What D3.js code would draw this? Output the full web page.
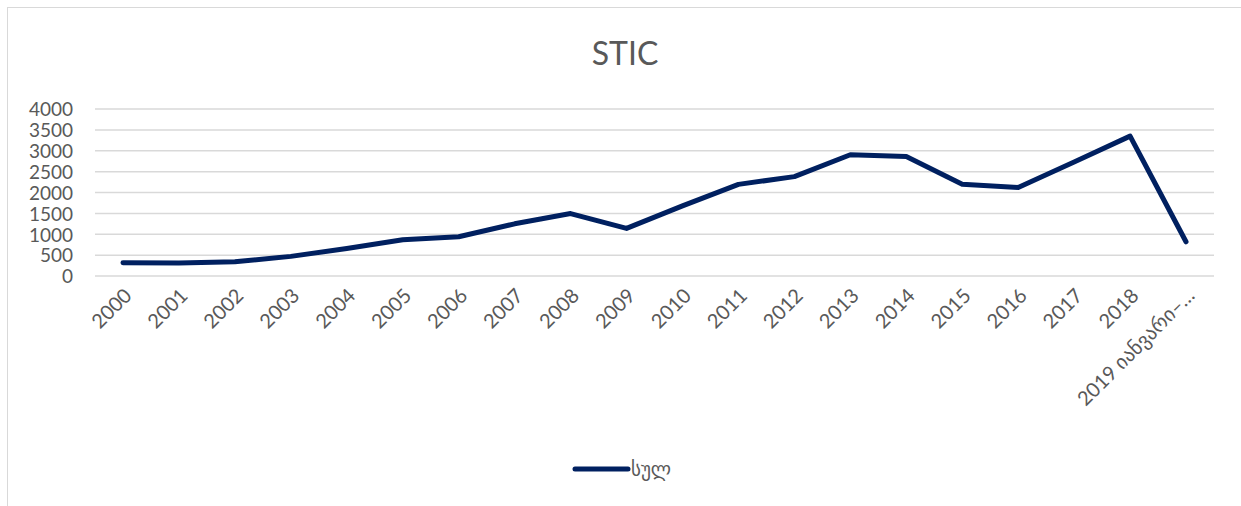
<!DOCTYPE html>
<html>
<head>
<meta charset="utf-8">
<script src="https://cdn.jsdelivr.net/npm/d3@7"></script>
<style>
    body { margin: 0; background: #fff; }
    svg { display: block; }
    .tick-label { font-family: Lato, "DejaVu Sans", sans-serif; fill: #595959; }
</style>
</head>
<body>
<div id="chart"></div>
<script>
// Chart data
const years = ['2000', '2001', '2002', '2003', '2004', '2005', '2006', '2007', '2008', '2009',
    '2010', '2011', '2012', '2013', '2014', '2015', '2016', '2017', '2018', '2019 იანვარი–…'];
const totals = [315, 312, 340, 470, 660, 870, 940, 1250, 1495, 1140,
    1680, 2195, 2380, 2905, 2860, 2200, 2120, 2730, 3350, 820];
const yTicks = [0, 500, 1000, 1500, 2000, 2500, 3000, 3500, 4000];
const title = 'STIC';
const seriesName = 'სულ';

const width = 1241;
const height = 506;
const margin = { left: 95, right: 27, top: 109, bottom: 230 };

const svg = d3.select('#chart')
    .append('svg')
    .attr('width', width)
    .attr('height', height);

// Outer chart border
svg.append('rect')
    .attr('x', 7.5)
    .attr('y', 7.5)
    .attr('width', width)
    .attr('height', height)
    .attr('fill', 'none')
    .attr('stroke', '#d9d9d9')
    .attr('stroke-width', 1);

// Title
svg.append('text')
    .attr('x', 625)
    .attr('y', 65)
    .attr('text-anchor', 'middle')
    .style('font-family', 'Lato, sans-serif')
    .style('font-size', '32px')
    .style('fill', '#595959')
    .text(title);

const x = d3.scaleBand()
    .domain(years)
    .range([margin.left, 1214]);

const y = d3.scaleLinear()
    .domain([0, 4000])
    .range([276, 109]);

// Gridlines
svg.append('g')
    .selectAll('line')
    .data(yTicks)
    .enter()
    .append('line')
    .attr('x1', margin.left)
    .attr('x2', 1214)
    .attr('y1', d => y(d))
    .attr('y2', d => y(d))
    .attr('stroke', '#d9d9d9')
    .attr('stroke-width', 1.5);

// Y axis labels
const yAxis = d3.axisLeft(y).tickValues(yTicks).tickFormat(d3.format('d')).tickSize(0).tickPadding(0);
const yG = svg.append('g')
    .attr('transform', 'translate(73,0)')
    .call(yAxis);
yG.select('.domain').remove();
yG.selectAll('text')
    .attr('class', 'tick-label')
    .style('font-size', '19px')
    .attr('dy', '0.36em');

// X axis labels, rotated
const xAxis = d3.axisBottom(x).tickSize(0).tickPadding(0);
const xG = svg.append('g')
    .attr('transform', 'translate(0,290)')
    .call(xAxis);
xG.select('.domain').remove();
xG.selectAll('text')
    .attr('class', 'tick-label')
    .style('font-size', '20px')
    .attr('text-anchor', 'end')
    .attr('dy', '0.35em')
    .attr('y', 0)
    .attr('transform', 'translate(5,2) rotate(-45)');

// Series line
const line = d3.line()
    .x((d, i) => x(years[i]) + x.bandwidth() / 2)
    .y(d => y(d));

svg.append('path')
    .datum(totals)
    .attr('d', line)
    .attr('fill', 'none')
    .attr('stroke', '#002060')
    .attr('stroke-width', 5)
    .attr('stroke-linejoin', 'round')
    .attr('stroke-linecap', 'round');

// Legend
const legend = svg.append('g').attr('transform', 'translate(575,469)');
legend.append('line')
    .attr('x1', 0)
    .attr('x2', 53)
    .attr('stroke', '#002060')
    .attr('stroke-width', 5)
    .attr('stroke-linecap', 'round');
legend.append('text')
    .attr('x', 56)
    .attr('dy', '0.35em')
    .style('font-family', '"DejaVu Sans", sans-serif')
    .style('font-size', '19px')
    .style('fill', '#595959')
    .text(seriesName);
</script>
</body>
</html>
